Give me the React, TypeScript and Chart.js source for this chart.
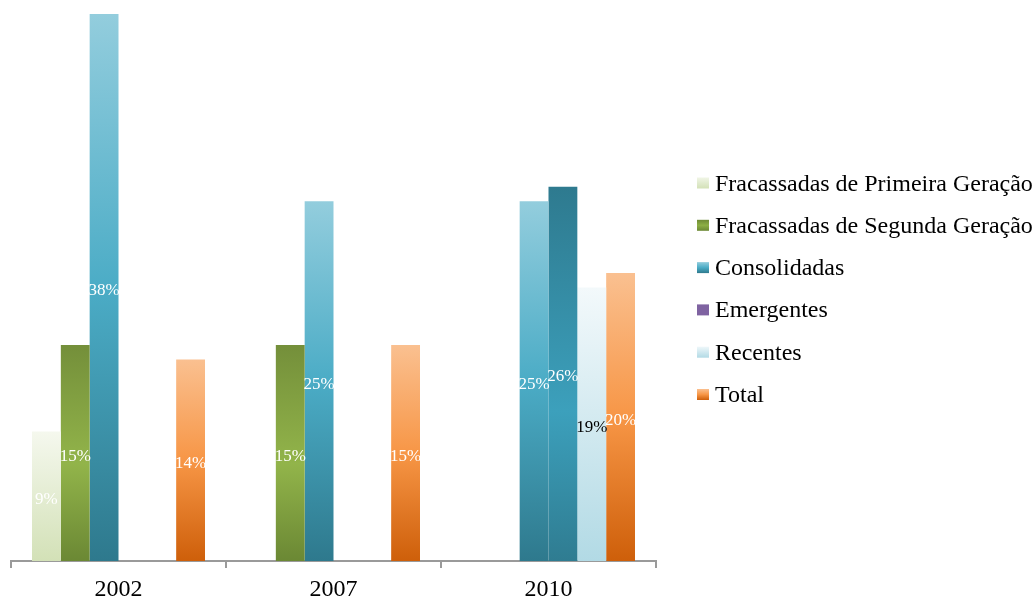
import React, { useEffect, useRef } from "react";
import { Chart, registerables } from "chart.js";

Chart.register(...registerables);

const categories = ["2002", "2007", "2010"];
const seriesNames = [
  "Fracassadas de Primeira Geração",
  "Fracassadas de Segunda Geração",
  "Consolidadas",
  "Emergentes",
  "Recentes",
  "Total",
];
const fracPrimeira = [9, null, null];
const fracSegunda = [15, 15, null];
const consolidadas = [38, 25, 25];
const emergentes = [null, null, 26];
const recentes = [null, null, 19];
const total = [14, 15, 20];

type Stop = [number, string];
const barGradients: Stop[][] = [
  [[0, "#F5F8EE"], [1, "#D3E1B7"]],
  [[0, "#748F3A"], [0.55, "#92B44A"], [1, "#6B8834"]],
  [[0, "#93CDDD"], [0.5, "#4BACC6"], [1, "#2E798D"]],
  [[0, "#2E7A8F"], [0.6, "#3CA0BC"], [1, "#2F7C91"]],
  [[0, "#F3F9FB"], [1, "#B2DAE5"]],
  [[0, "#FAC090"], [0.5, "#F79646"], [1, "#CE5F0A"]],
];
const legendGradients: Stop[][] = [
  [[0, "#F0F5E6"], [1, "#D3E1B7"]],
  [[0, "#6E8A35"], [0.5, "#8DAF45"], [1, "#6B8834"]],
  [[0, "#93CDDD"], [0.5, "#4BACC6"], [1, "#2E798D"]],
  [[0, "#7F63A1"], [1, "#7F63A1"]],
  [[0, "#EEF7FA"], [1, "#B2DAE5"]],
  [[0, "#FAC090"], [0.5, "#F79646"], [1, "#CE5F0A"]],
];
const labelColors = ["#FFFFFF", "#FFFFFF", "#FFFFFF", "#FFFFFF", "#000000", "#FFFFFF"];

const FONT = "'Liberation Serif', 'Times New Roman', serif";

function makeGrad(c: CanvasRenderingContext2D, top: number, bot: number, stops: Stop[]) {
  const g = c.createLinearGradient(0, top, 0, bot);
  stops.forEach(([o, col]) => g.addColorStop(o, col));
  return g;
}

const dataLabelPlugin = {
  id: "dataLabels",
  afterDatasetsDraw(chart: any) {
    const c = chart.ctx;
    c.save();
    c.font = `17px ${FONT}`;
    c.textAlign = "center";
    c.textBaseline = "middle";
    chart.data.datasets.forEach((ds: any, i: number) => {
      const meta = chart.getDatasetMeta(i);
      meta.data.forEach((el: any, j: number) => {
        const v = ds.data[j];
        if (v == null) return;
        c.fillStyle = labelColors[i];
        c.fillText(`${v}%`, el.x, (el.y + el.base) / 2 + 3);
      });
    });
    c.restore();
  },
};

const legendPlugin = {
  id: "customLegend",
  afterDraw(chart: any) {
    const c = chart.ctx;
    c.save();
    c.font = `24px ${FONT}`;
    c.textAlign = "left";
    c.textBaseline = "alphabetic";
    seriesNames.forEach((name, i) => {
      const cy = 183 + 42.3 * i;
      c.fillStyle = makeGrad(c, cy - 5.5, cy + 5.5, legendGradients[i]);
      c.fillRect(697, cy - 5.5, 12, 11);
      c.fillStyle = "#000000";
      c.fillText(name, 715, cy + 7.5);
    });
    c.restore();
  },
};

const seriesValues = [fracPrimeira, fracSegunda, consolidadas, emergentes, recentes, total];

export default function App() {
  const ref = useRef<HTMLCanvasElement>(null);
  useEffect(() => {
    if (!ref.current) return;
    const chart = new Chart(ref.current, {
      type: "bar",
      data: {
        labels: categories,
        datasets: seriesValues.map((vals, i) => ({
          label: seriesNames[i],
          data: vals,
          borderWidth: 0,
          barPercentage: 1,
          categoryPercentage: 173 / 215,
          backgroundColor: (ctx: any) => {
            const base = barGradients[i][Math.floor(barGradients[i].length / 2)][1];
            if (ctx.type !== "data") return base;
            const chart = ctx.chart;
            if (!chart.chartArea) return base;
            const v = ctx.raw;
            if (v == null) return base;
            const y = chart.scales.y;
            const top = y.getPixelForValue(v);
            const bot = y.getPixelForValue(0);
            return makeGrad(chart.ctx, top, bot, barGradients[i]);
          },
        })),
      },
      options: {
        animation: false,
        responsive: false,
        devicePixelRatio: 1,
        layout: { padding: { top: 14, left: 11, right: 378, bottom: -11 } },
        plugins: {
          legend: { display: false },
          tooltip: { enabled: false },
        },
        scales: {
          x: {
            grid: {
              display: true,
              drawOnChartArea: false,
              drawTicks: true,
              tickLength: 7,
              color: "#9A9A9A",
              lineWidth: 2,
              offset: true,
            },
            border: { display: true, color: "#9A9A9A", width: 2 },
            ticks: {
              color: "#000000",
              font: { family: FONT, size: 24, lineHeight: 1 },
              padding: 10,
            },
          },
          y: {
            display: false,
            min: 0,
            max: 38,
          },
        },
      },
      plugins: [dataLabelPlugin, legendPlugin],
    });
    return () => chart.destroy();
  }, []);
  return (
    <div style={{ position: "absolute", left: 0, top: 0, width: 1034, height: 601, background: "#fff" }}>
      <canvas ref={ref} width={1034} height={601} style={{ width: 1034, height: 601 }} />
    </div>
  );
}
